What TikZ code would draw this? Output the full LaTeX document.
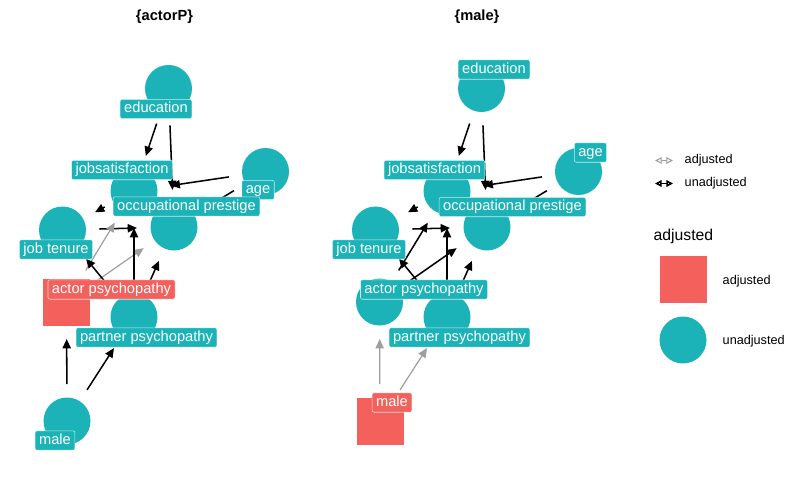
\documentclass[tikz,border=0pt]{standalone}
\usepackage{fontspec}
\setmainfont{Liberation Sans}
\usetikzlibrary{arrows.meta}
\definecolor{nodeteal}{HTML}{1BB3B7}
\definecolor{nodered}{HTML}{F4615D}
\definecolor{edgegray}{HTML}{9E9E9E}
\tikzset{
  unadj/.style={circle, fill=nodeteal, minimum size=35.25pt, inner sep=0pt},
  adj/.style={rectangle, fill=nodered, minimum size=35.25pt, inner sep=0pt},
  lab/.style={fill=#1, draw=white, draw opacity=0.75, line width=0.4pt,
    rounded corners=1.5pt, text=white, font=\fontsize{11}{12}\selectfont,
    inner xsep=3pt, inner ysep=2pt, text height=8.2pt, text depth=2.4pt},
  blk/.style={draw=black, line width=1.15pt,
    -{Triangle[length=7pt,width=6.2pt]}, shorten >=27.75pt, shorten <=27.75pt},
  gry/.style={blk, draw=edgegray, line width=0.9pt},
  paneltitle/.style={font=\bfseries\fontsize{11}{12}\selectfont},
  legtext/.style={anchor=west, font=\fontsize{9.5}{11}\selectfont},
  legkey/.style={line width=#1, {Triangle[open,length=5pt,width=5pt]}-{Triangle[open,length=5pt,width=5pt]}},
}
\begin{document}
\begin{tikzpicture}[x=0.75pt, y=-0.75pt]
\useasboundingbox (0,0) rectangle (800,500);

% ---------- panel {actorP} ----------
\node[paneltitle] (Ltitle) at (164.5,17) {\{actorP\}};
\coordinate (Ledu) at (168.5,88.5);
\coordinate (Ljs) at (134,191);
\coordinate (Lage) at (265.5,171.5);
\coordinate (Locc) at (174,227);
\coordinate (Ljt) at (62.5,230);
\coordinate (Lap) at (66.5,302);
\coordinate (Lpp) at (134,317);
\coordinate (Lmale) at (67,421);

\draw[blk] (Ledu) -- (Ljs);
\draw[blk] (Ledu) -- (Locc);
\draw[blk] (Lage) -- (Ljs);
\draw[blk] (Lage) -- (Locc);
\draw[blk, shorten <=25pt] (Ljs) -- (Ljt);
\draw[blk] (Ljt) -- (Locc);
\draw[gry] (Lap) -- (Ljs);
\draw[gry] (Lap) -- (Locc);
\draw[blk] (Lpp) -- (Ljt);
\draw[blk] (Lpp) -- (Ljs);
\draw[blk] (Lpp) -- (Locc);
\draw[blk] (Lmale) -- (Lap);
\draw[blk] (Lmale) -- (Lpp);

\node[unadj] (LeduN) at (Ledu) {};
\node[unadj] (LjsN) at (Ljs) {};
\node[unadj] (LageN) at (Lage) {};
\node[unadj] (LoccN) at (Locc) {};
\node[unadj] (LjtN) at (Ljt) {};
\node[adj] (LapN) at (Lap) {};
\node[unadj] (LppN) at (Lpp) {};
\node[unadj] (LmaleN) at (Lmale) {};

\node[lab=nodeteal] (LeduL) at (156,109) {education};
\node[lab=nodeteal] (LjsL) at (122,170) {jobsatisfaction};
\node[lab=nodeteal] (LageL) at (258,190) {age};
\node[lab=nodeteal] (LoccL) at (186.5,206.5) {occupational prestige};
\node[lab=nodeteal] (LjtL) at (56,249.5) {job tenure};
\node[lab=nodered] (LapL) at (111.5,289.5) {actor psychopathy};
\node[lab=nodeteal] (LppL) at (146.5,337.5) {partner psychopathy};
\node[lab=nodeteal] (LmaleL) at (55,440.5) {male};

% ---------- panel {male} ----------
\begin{scope}[shift={(313,0)}]
\node[paneltitle] (Rtitle) at (164,17) {\{male\}};
\coordinate (Redu) at (168.5,88.5);
\coordinate (Rjs) at (134,191);
\coordinate (Rage) at (265.5,171.5);
\coordinate (Rocc) at (174,227);
\coordinate (Rjt) at (62.5,230);
\coordinate (Rap) at (66.5,302);
\coordinate (Rpp) at (134,317);
\coordinate (Rmale) at (67,421);

\draw[blk] (Redu) -- (Rjs);
\draw[blk] (Redu) -- (Rocc);
\draw[blk] (Rage) -- (Rjs);
\draw[blk] (Rage) -- (Rocc);
\draw[blk, shorten <=25pt] (Rjs) -- (Rjt);
\draw[blk] (Rjt) -- (Rocc);
\draw[blk] (Rap) -- (Rjs);
\draw[blk] (Rap) -- (Rocc);
\draw[blk] (Rpp) -- (Rjt);
\draw[blk] (Rpp) -- (Rjs);
\draw[blk] (Rpp) -- (Rocc);
\draw[gry] (Rmale) -- (Rap);
\draw[gry] (Rmale) -- (Rpp);

\node[unadj] (ReduN) at (Redu) {};
\node[unadj] (RjsN) at (Rjs) {};
\node[unadj] (RageN) at (Rage) {};
\node[unadj] (RoccN) at (Rocc) {};
\node[unadj] (RjtN) at (Rjt) {};
\node[unadj] (RapN) at (Rap) {};
\node[unadj] (RppN) at (Rpp) {};
\node[adj] (RmaleN) at (Rmale) {};

\node[lab=nodeteal] (ReduL) at (181,69.5) {education};
\node[lab=nodeteal] (RjsL) at (121.5,170) {jobsatisfaction};
\node[lab=nodeteal] (RageL) at (277.5,152.5) {age};
\node[lab=nodeteal] (RoccL) at (199.5,207) {occupational prestige};
\node[lab=nodeteal] (RjtL) at (56,249.5) {job tenure};
\node[lab=nodeteal] (RapL) at (111,289.5) {actor psychopathy};
\node[lab=nodeteal] (RppL) at (146.5,337.5) {partner psychopathy};
\node[lab=nodered] (RmaleL) at (79,402.5) {male};
\end{scope}

% ---------- legends ----------
\coordinate (k1a) at (655,160.5);
\coordinate (k1b) at (673,160.5);
\coordinate (k2a) at (655,183.5);
\coordinate (k2b) at (673,183.5);
\draw[draw=edgegray, legkey=0.8pt] (k1a) -- (k1b);
\draw[draw=black, legkey=1.2pt] (k2a) -- (k2b);
\node[legtext] (k1t) at (680,160.5) {adjusted};
\node[legtext] (k2t) at (680,183.5) {unadjusted};

\node[anchor=west, font=\fontsize{11.8}{13}\selectfont] (legtitle) at (649,236) {adjusted};
\node[adj] (legsq) at (683.5,279.5) {};
\node[legtext] (legsqt) at (718,281) {adjusted};
\node[unadj] (legci) at (683,340) {};
\node[legtext] (legcit) at (718,341) {unadjusted};
\end{tikzpicture}
\end{document}
